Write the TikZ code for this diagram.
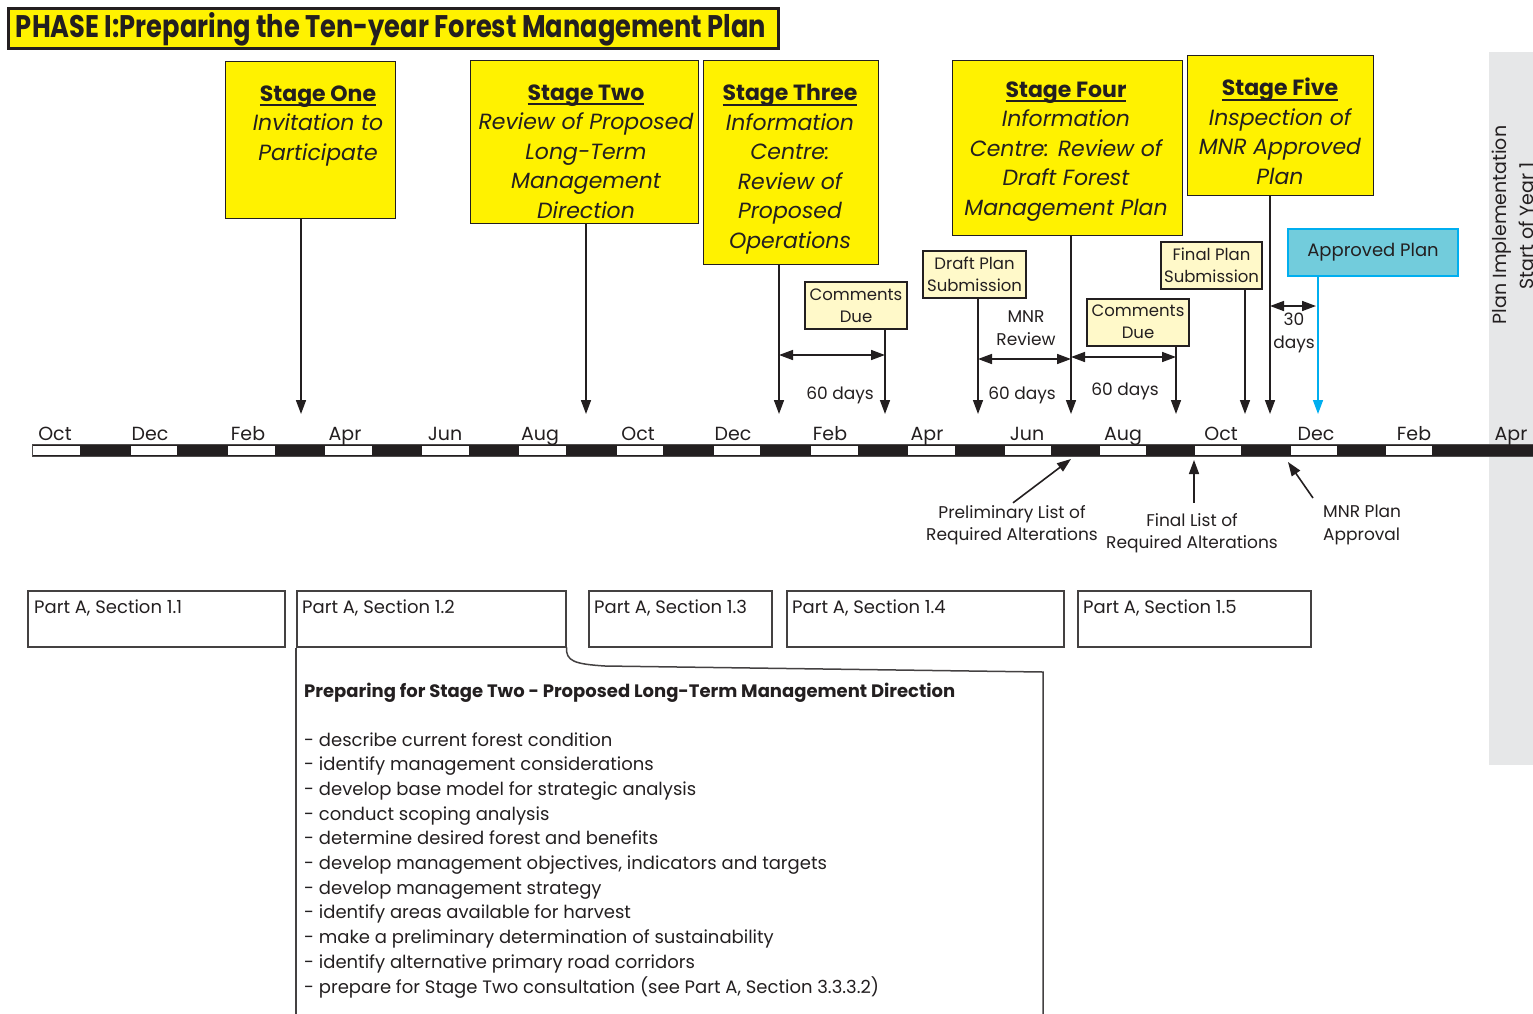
\documentclass[tikz,border=0pt]{standalone}
\usepackage{fontspec}
\setmainfont{Poppins}
\usetikzlibrary{arrows.meta,calc}

\definecolor{ink}{HTML}{231F20}
\definecolor{stageyellow}{HTML}{FFF200}
\definecolor{notefill}{HTML}{FFF9C9}
\definecolor{panelgray}{HTML}{E6E7E8}
\definecolor{approvedfill}{HTML}{72CCDC}
\definecolor{approvededge}{HTML}{00AEEF}

% upright bold heading with a heavy underline
\newcommand\ulbold[1]{\setbox0\hbox{\upshape\bfseries #1}\rlap{\rule[-5pt]{\wd0}{2pt}}\box0}

\tikzset{
  stagebox/.style={draw=ink, line width=1.3pt, fill=stageyellow, anchor=north west, inner sep=0pt},
  % multi-line nodes: the base anchor sits on the baseline of the last line
  stagetext/.style={text=ink, align=center, anchor=base, inner sep=0pt,
    font={\fontsize{22}{29.5}\selectfont\itshape}},
  notebox/.style={draw=ink, line width=2pt, fill=notefill, align=center, inner sep=0pt,
    minimum width=102pt, minimum height=47pt, text=ink,
    font={\fontsize{16.5}{22}\selectfont}},
  partbox/.style={draw=ink!85, line width=1.5pt, anchor=north west, minimum height=56pt, inner sep=0pt},
  parttext/.style={anchor=base west, inner sep=0pt, text=ink, font={\fontsize{18}{22}\selectfont}},
  month/.style={anchor=base, inner sep=0pt, text=ink, font={\fontsize{19}{22}\selectfont}},
  small/.style={align=center, inner sep=0pt, text=ink, font={\fontsize{17}{22.5}\selectfont}},
  arr/.style={draw=ink, line width=1.6pt, -{Triangle[length=14pt,width=10pt]}},
  span/.style={draw=ink, line width=1.6pt, {Triangle[length=14pt,width=10pt]}-{Triangle[length=14pt,width=10pt]}},
}

\begin{document}
\begin{tikzpicture}[x=1pt,y=-1pt]
\useasboundingbox (0,0) rectangle (1533,1013);

% implementation panel on the right
\fill[panelgray] (1489,52) rectangle (1540,765);
\node[rotate=90, text=ink, font={\fontsize{19}{22}\selectfont}] (impl1) at (1502,225) {Plan Implementation};
\node[rotate=90, text=ink, font={\fontsize{19}{22}\selectfont}] (impl2) at (1526,226) {Start of Year 1};

% phase title
\node[draw=ink, line width=3pt, fill=stageyellow, minimum width=770pt, minimum height=40pt, inner sep=0pt] (title) at (393,28) {};
\node[inner sep=0pt, text=ink] (titletext) at (391,29) {\resizebox{750pt}{25pt}{\bfseries PHASE I:Preparing the Ten-year Forest Management Plan}};

% stage boxes
\node[stagebox, minimum width=170pt, minimum height=157pt] (s1) at (225,61) {};
\node[stagetext] (s1t) at (318,160) {\ulbold{Stage One}\\Invitation to\\Participate};

\node[stagebox, minimum width=228pt, minimum height=163pt] (s2) at (470,60) {};
\node[stagetext] (s2t) at (586,218) {\ulbold{Stage Two}\\Review of Proposed\\Long-Term\\Management\\Direction};

\node[stagebox, minimum width=175pt, minimum height=204pt] (s3) at (703,60) {};
\node[stagetext] (s3t) at (790,248) {\ulbold{Stage Three}\\Information\\Centre:\\Review of\\Proposed\\Operations};

\node[stagebox, minimum width=230pt, minimum height=175pt] (s4) at (952,60) {};
\node[stagetext] (s4t) at (1066,215) {\ulbold{Stage Four}\\Information\\Centre: Review of\\Draft Forest\\Management Plan};

\node[stagebox, minimum width=186pt, minimum height=140pt] (s5) at (1187,55) {};
\node[stagetext] (s5t) at (1280,184) {\ulbold{Stage Five}\\Inspection of\\MNR Approved\\Plan};

% milestone notes
\node[notebox] (c1) at (856,305.5) {Comments\\Due};
\node[notebox, minimum width=103pt] (dps) at (974.5,274.5) {Draft Plan\\Submission};
\node[notebox] (c2) at (1138,322) {Comments\\Due};
\node[notebox, minimum width=101pt] (fps) at (1211.5,265.5) {Final Plan\\Submission};
\node[draw=approvededge, line width=2pt, fill=approvedfill, minimum width=170pt, minimum height=47pt,
      inner sep=0pt, text=ink, font={\fontsize{18}{22}\selectfont}] (apl) at (1373,252.5) {Approved Plan};

% arrow ends on the timeline
\coordinate (t1) at (301,414);
\coordinate (t2) at (586,414);
\coordinate (t3) at (779,414);
\coordinate (t4) at (885,414);
\coordinate (t5) at (978,414);
\coordinate (t6) at (1071,414);
\coordinate (t7) at (1176,414);
\coordinate (t8) at (1245,414);
\coordinate (t9) at (1270,414);
\coordinate (t10) at (1318,414);

\draw[arr] (t1 |- s1.south) -- (t1);
\draw[arr] (t2 |- s2.south) -- (t2);
\draw[arr] (t3 |- s3.south) -- (t3);
\draw[arr] (t4 |- c1.south) -- (t4);
\draw[arr] (t5 |- dps.south) -- (t5);
\draw[arr] (t6 |- s4.south) -- (t6);
\draw[arr] (t7 |- c2.south) -- (t7);
\draw[arr] (t8 |- fps.south) -- (t8);
\draw[arr] (t9 |- s5.south) -- (t9);
\draw[line width=1.6pt, draw=approvededge, -{Triangle[length=14pt,width=10pt]}] (t10 |- apl.south) -- (t10);

% durations
\coordinate (d1a) at (779,355);  \coordinate (d1b) at (885,355);
\coordinate (d2a) at (978,359);  \coordinate (d2b) at (1071,359);
\coordinate (d3a) at (1071,357); \coordinate (d3b) at (1176,357);
\coordinate (d4a) at (1270,306); \coordinate (d4b) at (1316,306);
\draw[span] (d1a) -- (d1b);
\draw[span] (d2a) -- (d2b);
\draw[span] (d3a) -- (d3b);
\draw[span] (d4a) -- (d4b);
\node[small] (l60a) at (840,395) {60 days};
\node[small] (l60b) at (1022,395) {60 days};
\node[small] (l60c) at (1125,391) {60 days};
\node[small] (mnrr) at (1026,328) {MNR\\Review};
\node[small] (l30) at (1294,333) {30\\days};

% timeline bar
\fill[ink] (32,444) rectangle (1533,456);
\foreach \a/\b in {32/80,130/177,227/275,324/372,421/469,518/566,616/663,713/760,810/858,907/955,1004/1051,1099/1146,1194/1241,1290/1337,1385/1432}
  \fill[white] (\a+1,445.5) rectangle (\b,454.5);
\draw[ink!80, line width=0.8pt] (32,444) -- (1533,444) (32,456) -- (1533,456) (32,444) -- (32,456);

% month labels
\foreach \x/\m in {55/Oct,150/Dec,248/Feb,345/Apr,445/Jun,540/Aug,638/Oct,733/Dec,830/Feb,927/Apr,1027/Jun,1123/Aug,1221/Oct,1316/Dec,1414/Feb,1511/Apr}
  \node[month] at (\x,440) {\m};

% alteration and approval milestones below the bar
\coordinate (pl) at (1071,459);
\coordinate (fl) at (1194,460);
\coordinate (ap) at (1288,462);
\node[small] (plt) at (1012,525) {Preliminary List of\\Required Alterations};
\node[small] (flt) at (1192,533) {Final List of\\Required Alterations};
\node[small, align=left, anchor=north west] (apt) at (1323,505) {MNR Plan\\Approval};
\draw[arr] ($(plt.north)+(1,-2)$) -- (pl);
\draw[arr] (fl |- flt.north) ++(0,-10) -- (fl);
\draw[arr] ($(apt.north west)+(-10,-7)$) -- (ap);

% manual section boxes
\node[partbox, minimum width=257pt] (p11) at (27,590) {};
\node[partbox, minimum width=269pt] (p12) at (296,590) {};
\node[partbox, minimum width=183pt] (p13) at (588,590) {};
\node[partbox, minimum width=277pt] (p14) at (786,590) {};
\node[partbox, minimum width=233pt] (p15) at (1077,590) {};
\node[parttext] (p11t) at (34,613) {Part A, Section 1.1};
\node[parttext] (p12t) at (302,613) {Part A, Section 1.2};
\node[parttext] (p13t) at (594,613) {Part A, Section 1.3};
\node[parttext] (p14t) at (792,613) {Part A, Section 1.4};
\node[parttext] (p15t) at (1083,613) {Part A, Section 1.5};

% call-out for section 1.2
\draw[ink!85, line width=1.5pt] (p12.south west) -- (296,1025);
\draw[ink!85, line width=1.5pt] (p12.south east) .. controls (566,661) and (574,664) .. (605,666) -- (1043,672) -- (1043,1025);

\node[anchor=base west, inner sep=0pt, text=ink, font={\fontsize{18}{22}\selectfont\bfseries}] (cohead) at (304,697)
  {Preparing for Stage Two - Proposed Long-Term Management Direction};
\node[anchor=base west, inner sep=0pt, align=left, text=ink, font={\fontsize{18}{24.7}\selectfont}] (colist) at (304,993)
  {- describe current forest condition\\
   - identify management considerations\\
   - develop base model for strategic analysis\\
   - conduct scoping analysis\\
   - determine desired forest and benefits\\
   - develop management objectives, indicators and targets\\
   - develop management strategy\\
   - identify areas available for harvest\\
   - make a preliminary determination of sustainability\\
   - identify alternative primary road corridors\\
   - prepare for Stage Two consultation (see Part A, Section 3.3.3.2)};
\end{tikzpicture}
\end{document}
